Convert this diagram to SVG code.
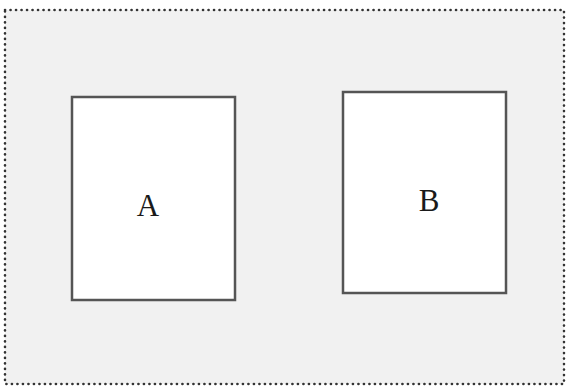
<svg xmlns="http://www.w3.org/2000/svg" width="567" height="389" viewBox="0 0 567 389">
<style>
.box{fill:#ffffff;stroke:#555555;stroke-width:2.5}
.lbl{font-family:"Liberation Serif","Times New Roman",serif;font-size:31px;fill:#1a1a1a;text-anchor:middle}
</style>
<rect x="0" y="0" width="567" height="389" fill="#ffffff"/>
<rect id="frame" x="5" y="10" width="559" height="374" fill="#f1f1f1" stroke="#333333" stroke-width="2.6" stroke-dasharray="0.1 5.4" stroke-linecap="round"/>
<g id="A">
<rect class="box" x="72" y="97" width="163" height="203"/>
<text class="lbl" x="148" y="216">A</text>
</g>
<g id="B">
<rect class="box" x="343" y="92" width="163" height="201"/>
<text class="lbl" x="429" y="211">B</text>
</g>
<g id="connectors"></g>
</svg>
